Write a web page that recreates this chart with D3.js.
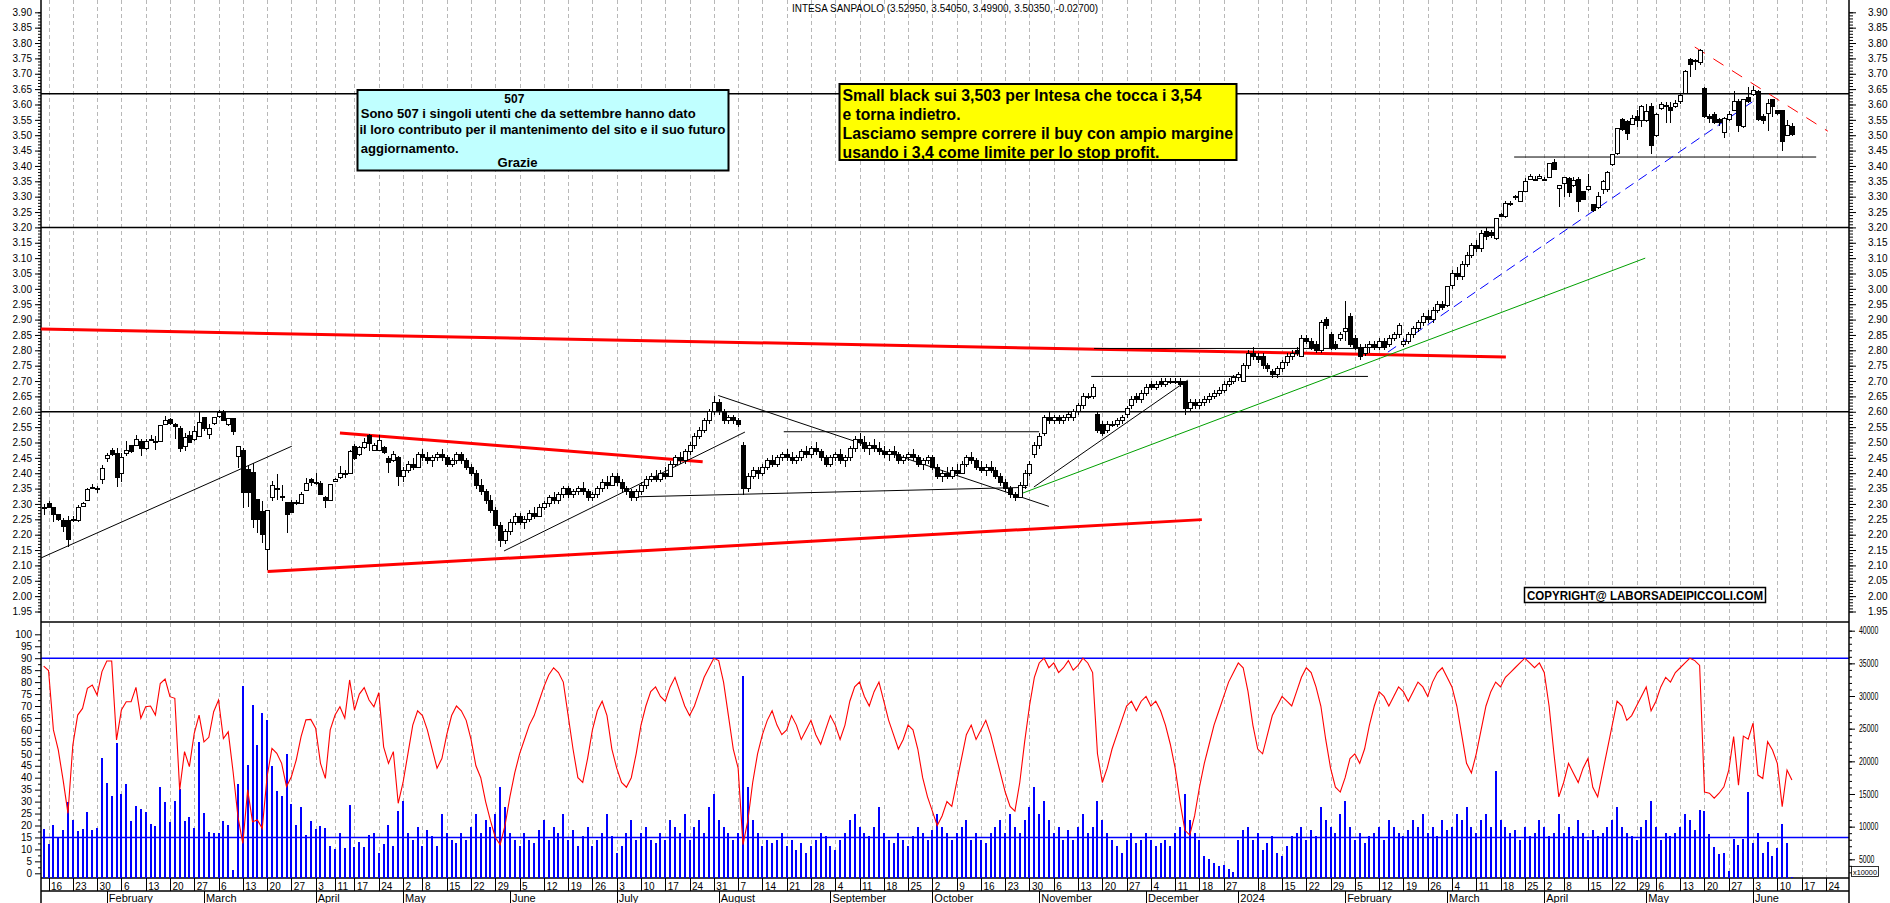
<!DOCTYPE html>
<html><head><meta charset="utf-8">
<script src="https://cdn.jsdelivr.net/npm/d3@7"></script>
<style>body{margin:0;background:#fff}svg{display:block}text{font-family:"Liberation Sans",Arial,sans-serif}</style>
</head><body>
<svg id="chart" width="1890" height="903"></svg>
<script>
// ---------------- DATA ----------------
const titleText = "INTESA SANPAOLO (3.52950, 3.54050, 3.49900, 3.50350, -0.02700)";
const firstTradingDay = "2023-01-13";
const marketHolidays = ["2023-04-07","2023-04-10","2023-05-01","2023-12-25","2023-12-26","2024-01-01","2024-03-29","2024-04-01","2024-05-01"];
const monthNames = ["January","February","March","April","May","June","July","August","September","October","November","December"];

// daily candles [open, high, low, close]
const ohlc = [
[2.29,2.30,2.265,2.285],[2.30,2.31,2.29,2.29],[2.29,2.29,2.24,2.265],[2.265,2.265,2.245,2.25],[2.245,2.255,2.21,2.228],
[2.245,2.26,2.16,2.185],[2.245,2.26,2.24,2.248],[2.247,2.298,2.24,2.287],[2.292,2.305,2.29,2.30],[2.31,2.352,2.308,2.347],
[2.35,2.366,2.348,2.352],[2.35,2.357,2.335,2.35],[2.38,2.428,2.365,2.414],[2.447,2.466,2.436,2.458],[2.475,2.483,2.455,2.46],
[2.464,2.483,2.354,2.387],[2.398,2.466,2.37,2.45],[2.463,2.504,2.455,2.474],[2.49,2.493,2.466,2.472],[2.491,2.526,2.488,2.51],
[2.504,2.51,2.457,2.482],[2.482,2.51,2.475,2.504],[2.508,2.526,2.504,2.51],[2.50,2.52,2.477,2.503],[2.504,2.556,2.503,2.555],
[2.56,2.585,2.558,2.57],[2.575,2.58,2.558,2.562],[2.559,2.564,2.51,2.551],[2.545,2.553,2.468,2.482],[2.486,2.531,2.472,2.515],
[2.523,2.537,2.497,2.499],[2.51,2.553,2.504,2.537],[2.521,2.602,2.518,2.566],[2.58,2.584,2.537,2.545],[2.526,2.559,2.51,2.545],
[2.562,2.581,2.558,2.58],[2.584,2.607,2.58,2.597],[2.599,2.607,2.57,2.57],[2.558,2.58,2.555,2.577],[2.577,2.577,2.526,2.537],
[2.455,2.486,2.417,2.486],[2.474,2.483,2.287,2.336],[2.412,2.426,2.29,2.336],[2.403,2.432,2.222,2.249],[2.314,2.314,2.205,2.249],
[2.276,2.309,2.173,2.20],[2.153,2.28,2.084,2.279],[2.32,2.374,2.309,2.36],[2.35,2.396,2.314,2.35],[2.323,2.363,2.309,2.323],
[2.305,2.305,2.205,2.265],[2.305,2.314,2.27,2.273],[2.303,2.314,2.298,2.305],[2.303,2.338,2.301,2.33],[2.344,2.385,2.341,2.368],
[2.379,2.385,2.357,2.37],[2.37,2.40,2.363,2.371],[2.368,2.374,2.33,2.33],[2.32,2.327,2.287,2.312],[2.312,2.364,2.31,2.363],
[2.374,2.385,2.373,2.379],[2.385,2.423,2.38,2.40],[2.398,2.41,2.385,2.40],[2.40,2.477,2.40,2.472],[2.488,2.494,2.442,2.447],
[2.461,2.488,2.455,2.483],[2.483,2.515,2.478,2.501],[2.523,2.528,2.472,2.497],[2.475,2.499,2.472,2.49],[2.475,2.523,2.472,2.508],
[2.483,2.488,2.461,2.466],[2.447,2.455,2.40,2.436],[2.44,2.472,2.436,2.461],[2.45,2.456,2.357,2.39],
[2.39,2.42,2.37,2.41],[2.41,2.44,2.40,2.43],[2.43,2.45,2.41,2.42],[2.42,2.47,2.42,2.46],[2.46,2.48,2.44,2.45],
[2.45,2.47,2.43,2.44],[2.44,2.46,2.42,2.45],[2.45,2.47,2.44,2.46],[2.46,2.48,2.44,2.45],[2.45,2.46,2.42,2.43],
[2.43,2.45,2.42,2.44],[2.44,2.47,2.43,2.46],[2.46,2.47,2.43,2.44],[2.44,2.45,2.41,2.42],[2.42,2.43,2.39,2.40],
[2.40,2.41,2.35,2.36],[2.36,2.38,2.33,2.34],[2.34,2.35,2.30,2.31],[2.31,2.33,2.27,2.28],[2.28,2.29,2.22,2.23],
[2.23,2.24,2.16,2.18],[2.18,2.22,2.17,2.21],[2.21,2.25,2.20,2.24],[2.24,2.27,2.23,2.26],[2.26,2.27,2.23,2.24],
[2.24,2.26,2.22,2.25],[2.25,2.28,2.24,2.27],[2.27,2.29,2.25,2.26],[2.26,2.30,2.26,2.29],[2.29,2.31,2.28,2.30],
[2.30,2.33,2.29,2.32],[2.32,2.34,2.30,2.31],[2.31,2.34,2.30,2.33],[2.33,2.36,2.32,2.35],[2.35,2.36,2.32,2.33],
[2.33,2.35,2.32,2.34],[2.34,2.36,2.33,2.35],[2.35,2.37,2.33,2.34],[2.34,2.35,2.31,2.32],[2.32,2.34,2.31,2.33],
[2.33,2.36,2.32,2.35],[2.35,2.38,2.34,2.37],[2.37,2.39,2.35,2.36],[2.36,2.40,2.36,2.39],[2.39,2.40,2.36,2.37],
[2.37,2.38,2.34,2.35],[2.35,2.36,2.33,2.34],[2.34,2.35,2.31,2.32],[2.32,2.35,2.31,2.34],[2.34,2.37,2.33,2.36],
[2.36,2.39,2.35,2.38],[2.38,2.40,2.37,2.39],[2.39,2.41,2.37,2.38],[2.38,2.41,2.37,2.40],[2.40,2.42,2.38,2.39],
[2.39,2.44,2.39,2.43],[2.43,2.46,2.42,2.45],[2.45,2.47,2.43,2.44],[2.44,2.48,2.43,2.47],[2.47,2.50,2.46,2.49],
[2.49,2.53,2.48,2.52],[2.52,2.55,2.51,2.54],[2.54,2.58,2.53,2.57],[2.57,2.61,2.56,2.60],[2.60,2.65,2.59,2.63],
[2.63,2.64,2.59,2.60],[2.60,2.61,2.56,2.57],[2.57,2.59,2.56,2.58],[2.58,2.59,2.56,2.57],[2.57,2.58,2.55,2.56],
[2.49,2.50,2.33,2.35],[2.35,2.40,2.34,2.39],[2.39,2.42,2.38,2.41],[2.41,2.42,2.38,2.40],[2.40,2.43,2.39,2.42],
[2.42,2.45,2.41,2.44],[2.44,2.46,2.42,2.43],[2.43,2.46,2.42,2.45],[2.45,2.47,2.44,2.46],[2.46,2.48,2.44,2.45],
[2.45,2.47,2.43,2.44],[2.44,2.46,2.43,2.45],[2.45,2.48,2.44,2.47],[2.47,2.49,2.45,2.46],[2.46,2.49,2.45,2.48],
[2.48,2.50,2.46,2.47],[2.47,2.48,2.44,2.45],[2.45,2.46,2.42,2.43],[2.43,2.46,2.42,2.45],[2.45,2.47,2.44,2.46],
[2.46,2.48,2.43,2.44],[2.44,2.46,2.42,2.45],[2.45,2.49,2.44,2.48],[2.48,2.52,2.47,2.51],[2.51,2.53,2.49,2.50],
[2.50,2.52,2.47,2.48],[2.48,2.50,2.46,2.49],[2.49,2.51,2.47,2.48],[2.48,2.50,2.46,2.47],[2.47,2.49,2.45,2.46],
[2.46,2.48,2.44,2.47],[2.47,2.49,2.45,2.46],[2.46,2.47,2.43,2.44],[2.44,2.46,2.43,2.45],[2.45,2.47,2.44,2.46],
[2.46,2.48,2.44,2.45],[2.45,2.46,2.42,2.43],[2.43,2.45,2.41,2.44],[2.44,2.46,2.43,2.45],[2.45,2.46,2.41,2.42],
[2.42,2.43,2.38,2.39],[2.39,2.41,2.37,2.40],[2.40,2.42,2.38,2.39],[2.39,2.42,2.38,2.41],[2.41,2.43,2.39,2.40],
[2.40,2.44,2.40,2.43],[2.43,2.46,2.42,2.45],[2.45,2.47,2.43,2.44],[2.44,2.45,2.41,2.42],[2.42,2.44,2.40,2.41],
[2.41,2.43,2.39,2.42],[2.42,2.44,2.40,2.41],[2.41,2.42,2.38,2.39],[2.39,2.40,2.36,2.37],
[2.37,2.38,2.34,2.35],[2.35,2.36,2.32,2.33],[2.33,2.34,2.31,2.32],[2.32,2.37,2.32,2.36],[2.36,2.41,2.35,2.40],
[2.40,2.44,2.39,2.43],[2.46,2.50,2.45,2.49],[2.49,2.53,2.48,2.52],[2.53,2.59,2.52,2.58],[2.58,2.60,2.56,2.57],
[2.57,2.59,2.56,2.58],[2.58,2.59,2.56,2.57],[2.57,2.59,2.56,2.58],[2.58,2.60,2.57,2.59],[2.58,2.61,2.57,2.60],
[2.60,2.63,2.59,2.62],[2.62,2.66,2.61,2.65],[2.65,2.66,2.64,2.65],[2.65,2.69,2.64,2.68],[2.59,2.60,2.53,2.54],
[2.56,2.57,2.52,2.53],[2.54,2.57,2.53,2.56],[2.56,2.57,2.55,2.56],[2.56,2.58,2.55,2.57],[2.57,2.59,2.56,2.58],
[2.59,2.62,2.58,2.61],[2.62,2.65,2.61,2.64],[2.65,2.66,2.63,2.64],[2.64,2.67,2.63,2.66],[2.66,2.69,2.65,2.68],
[2.69,2.70,2.67,2.68],[2.68,2.70,2.67,2.69],[2.70,2.71,2.68,2.69],[2.69,2.71,2.68,2.70],[2.70,2.71,2.69,2.70],
[2.70,2.71,2.69,2.70],[2.70,2.71,2.68,2.69],[2.70,2.70,2.59,2.61],[2.61,2.64,2.60,2.63],[2.63,2.64,2.61,2.62],
[2.62,2.64,2.61,2.63],[2.63,2.65,2.62,2.64],[2.64,2.66,2.63,2.65],[2.65,2.67,2.64,2.66],[2.66,2.68,2.65,2.67],
[2.67,2.70,2.66,2.69],[2.69,2.71,2.68,2.70],[2.70,2.72,2.69,2.71],[2.71,2.73,2.70,2.72],[2.70,2.76,2.70,2.75],
[2.75,2.80,2.74,2.79],[2.79,2.81,2.77,2.78],[2.78,2.79,2.76,2.77],[2.78,2.79,2.74,2.75],[2.75,2.76,2.73,2.74],
[2.73,2.74,2.71,2.72],[2.72,2.75,2.71,2.74],[2.74,2.77,2.73,2.76],[2.76,2.79,2.75,2.78],[2.78,2.80,2.77,2.79],
[2.80,2.81,2.78,2.79],[2.78,2.85,2.78,2.84],[2.84,2.85,2.82,2.83],[2.83,2.84,2.80,2.81],[2.82,2.83,2.79,2.80],
[2.80,2.90,2.79,2.89],[2.90,2.91,2.87,2.88],[2.85,2.86,2.80,2.81],[2.82,2.83,2.80,2.81],[2.84,2.86,2.83,2.85],
[2.86,2.96,2.83,2.87],[2.91,2.92,2.81,2.82],[2.84,2.85,2.80,2.81],[2.81,2.82,2.77,2.78],[2.79,2.82,2.78,2.81],
[2.81,2.83,2.79,2.82],[2.82,2.83,2.80,2.81],[2.81,2.84,2.80,2.83],[2.83,2.84,2.80,2.81],[2.82,2.85,2.81,2.84],
[2.84,2.86,2.83,2.85],[2.85,2.89,2.84,2.88],[2.82,2.84,2.81,2.83],[2.83,2.86,2.82,2.85],[2.85,2.88,2.84,2.87],
[2.87,2.90,2.86,2.89],[2.89,2.92,2.88,2.91],[2.91,2.93,2.89,2.90],[2.90,2.94,2.89,2.93],[2.93,2.96,2.92,2.95],
[2.95,2.96,2.93,2.94],[2.947,3.01,2.94,3.009],[3.01,3.06,3.00,3.05],[3.05,3.07,3.03,3.04],[3.04,3.09,3.03,3.08],
[3.08,3.12,3.07,3.11],[3.11,3.15,3.10,3.14],[3.14,3.16,3.12,3.13],[3.13,3.19,3.12,3.18],
[3.186,3.20,3.159,3.17],[3.183,3.19,3.165,3.175],[3.164,3.23,3.16,3.229],[3.242,3.248,3.235,3.235],[3.235,3.285,3.23,3.278],
[3.278,3.285,3.27,3.279],[3.302,3.305,3.29,3.298],[3.283,3.316,3.283,3.316],[3.316,3.36,3.316,3.349],[3.355,3.374,3.353,3.365],
[3.354,3.366,3.35,3.355],[3.359,3.375,3.356,3.367],[3.354,3.364,3.353,3.355],[3.363,3.41,3.363,3.408],[3.411,3.422,3.387,3.387],
[3.328,3.335,3.267,3.335],[3.343,3.365,3.30,3.363],[3.359,3.365,3.30,3.313],[3.337,3.365,3.33,3.354],[3.356,3.365,3.25,3.283],
[3.316,3.32,3.29,3.291],[3.324,3.375,3.32,3.332],[3.273,3.273,3.25,3.256],[3.264,3.316,3.26,3.30],[3.322,3.355,3.31,3.349],
[3.322,3.382,3.316,3.378],[3.406,3.44,3.40,3.436],[3.441,3.525,3.436,3.522],[3.551,3.555,3.515,3.519],[3.544,3.55,3.483,3.506],
[3.536,3.566,3.533,3.555],[3.56,3.582,3.528,3.549],[3.549,3.598,3.528,3.593],[3.549,3.60,3.543,3.576],[3.593,3.604,3.44,3.468],
[3.50,3.572,3.495,3.569],[3.587,3.609,3.582,3.601],[3.598,3.609,3.54,3.598],[3.59,3.609,3.541,3.582],[3.593,3.613,3.587,3.604],
[3.609,3.638,3.603,3.63],[3.636,3.712,3.636,3.707],[3.747,3.75,3.69,3.731],[3.742,3.747,3.712,3.742],[3.736,3.78,3.73,3.777],
[3.653,3.656,3.555,3.56],[3.56,3.57,3.54,3.555],[3.566,3.575,3.535,3.54],[3.55,3.555,3.53,3.54],[3.51,3.56,3.49,3.555],
[3.55,3.58,3.545,3.568],[3.58,3.645,3.578,3.61],[3.61,3.618,3.51,3.533],[3.527,3.619,3.525,3.617],[3.624,3.657,3.605,3.61],
[3.634,3.66,3.627,3.646],[3.642,3.648,3.545,3.55],[3.562,3.57,3.536,3.547],[3.571,3.617,3.514,3.602],[3.617,3.617,3.56,3.593],
[3.579,3.58,3.565,3.571],[3.579,3.58,3.45,3.478],[3.50,3.55,3.498,3.53],[3.5295,3.5405,3.499,3.5035]
];

// volume (right axis units)
const volume = [
9593,7342,10251,8460,9486,13722,11017,9333,9640,12196,9486,9792,20555,16728,14691,22852,14998,16575,10910,13160,
12746,12242,10404,10052,16069,13727,10711,13880,15809,10910,11476,9838,23005,12134,9180,9026,9026,10864,10205,3362,
16529,31532,19437,28623,22500,27398,26327,19238,15502,14737,21121,13512,10205,12961,8720,10864,9685,10144,9746,6990,
6577,8980,6776,13267,6929,7649,6929,8766,8980,5918,7297,10297,6990,12348,
14000,9000,8000,10000,7000,9500,8500,7000,12000,9000,8000,7500,9000,8000,10000,12000,9000,11000,10000,12000,
16000,13000,9000,8000,7000,9000,8000,7500,9500,11000,8000,10000,9000,12000,8000,9500,7000,8500,10000,7000,
8000,9000,12000,8500,6000,7000,9000,11000,8000,9000,10000,8000,7500,9000,8000,11000,10000,9000,12000,8000,
10000,11000,9000,13000,15000,11000,10000,9000,8000,9000,33000,16000,11000,9000,7000,8000,7500,8000,9000,7000,
8000,6500,7500,6000,7000,8000,9000,8500,7000,6500,8000,9000,11000,12000,10000,9000,8500,10000,13000,9000,
8000,7500,9000,8000,7000,8500,10000,9000,8000,9500,12000,10000,9000,8000,9000,10000,11000,8000,9000,8000,
7500,9000,10000,11000,9000,12000,10000,9000,11000,13000,16000,12000,14000,11000,9000,10000,8000,9500,8000,10000,
12000,9000,10000,14000,11000,9000,8000,7000,6000,8000,9000,7500,8000,9000,8000,7000,7500,8000,7000,9000,
10000,15000,11000,9000,8000,5500,5000,4500,4000,4200,3500,3000,8000,9500,10000,8000,9000,6500,7500,8500,
6000,5500,7000,8500,9000,10000,8000,9500,8500,13000,11000,10000,9000,12000,14000,10000,8000,9000,7500,8500,
9000,10000,8000,11000,10000,9000,8500,9500,11000,10000,12000,9000,10000,8500,11000,9500,10000,12000,11000,13000,
10000,9000,11000,12000,10000,18500,11000,10000,9000,9500,8000,10000,8500,9000,11000,10000,8500,9000,12000,9000,
10000,8500,11000,9000,8000,9500,8500,9000,10000,11000,13000,10000,9000,8500,8000,10000,11000,14000,10000,8000,
9000,8500,9000,10000,12000,11000,9500,12548,12441,8827,6837,5811,5919,3255,8062,7143,8062,15304,7450,8981,
6010,7649,5505,6730,10404,7450,2336
];

// oscillator (left axis 0-100)
const oscillator = [
86.7,84.8,60,51.6,39,25.1,53.7,66.2,69,77.4,78.8,74.6,84.4,88.8,88.8,55.8,68.3,71.8,71.8,77.8,
64.9,69.7,70,66.2,79.4,81.3,73.9,73.2,34.9,50.9,44.6,58.6,66.2,55,56.9,67.6,72.5,56.4,59.2,42.5,
23.7,12.5,34.9,21.6,22.3,18.8,40.4,52.3,50.2,46,36.3,40.4,47.4,57.2,64.2,64.4,60.7,46,39.7,60,
66.2,69.7,64.9,80.9,68.3,75,77.7,72.5,69.7,75.6,52.9,46,50.9,29.3,
38,50,62,68,66,60,52,44,48,58,66,70,68,64,56,45,40,30,22,15,
12,20,32,42,50,56,62,66,72,78,83,86,84,80,66,52,40,38,48,60,
68,72,66,52,44,38,36,40,50,62,70,76,78,74,72,78,82,76,70,66,
70,76,82,86,90,89,80,66,52,44,12,22,38,50,58,64,68,62,58,60,
66,62,56,60,64,58,54,60,66,62,56,62,72,78,80,74,70,76,80,72,
64,58,52,56,62,60,52,40,32,26,20,24,30,28,38,48,58,62,56,60,
64,58,50,42,34,28,26,38,55,70,82,88,90,86,88,84,86,89,85,87,
90,88,84,50,38,44,52,58,64,70,72,68,72,74,70,72,68,62,54,44,
30,18,16,24,36,46,54,62,68,74,80,84,88,86,76,62,52,50,58,66,
70,74,72,70,76,82,86,84,78,70,56,44,36,34,40,48,50,46,52,62,
70,76,74,70,74,78,76,72,76,80,78,74,80,84,86,82,78,70,58,46,
42,50,60,70,76,80,78,82,84,86,88,90,88,86,88,84,70,50,32,38,
46,42,38,44,48,36,32,42,52,62,72,70,64,66,70,74,78,68,72,78,
82,80,84,86,88,90,89,87,34,33.5,31.4,33.5,36.2,43.2,57.2,36.9,57.4,56.1,
62.8,41.1,39.7,55.1,51.6,46,27.9,43.2,39
];

const priceLevels = [3.635, 3.20, 2.60];
const oscLevels = [90, 15];
// drawn trendlines: [index1, price1, index2, price2]
const blackTrends = [[-0.6,2.124,51.1,2.488],[94.8,2.147,144.4,2.534],[138.9,2.653,207,2.292],[121.4,2.323,202.5,2.354],
  [203.9,2.355,235.6,2.703],[152.4,2.535,205,2.535],[215.7,2.715,272.7,2.715],[216.3,2.806,272.5,2.806],[302.8,3.429,365,3.429]];
const redTrends = [[-0.6,2.869,301.1,2.778],[61,2.531,135.7,2.437],[46.1,2.080,238.5,2.249]];
const greenTrend = [200.2,2.327,329.8,3.100];
const blueDashTrend = [276.8,2.794,353,3.621];
const redDashTrend = [340,3.787,367.4,3.513];

const noteCyan = ["507","Sono 507 i singoli utenti che da settembre hanno dato","il loro contributo per il mantenimento del sito e il suo futuro","aggiornamento.","Grazie"];
const noteYellow = ["Small black sui 3,503 per Intesa che tocca i 3,54","e torna indietro.","Lasciamo sempre correre il buy con ampio margine","usando i 3,4 come limite per lo stop profit."];
const copyrightText = "COPYRIGHT@ LABORSADEIPICCOLI.COM";

// ---------------- LAYOUT ----------------
const svg = d3.select("#chart");
const L = 41, R = 1849;
const priceBottom = 622, volBottom = 878, dayRowBottom = 891, H = 903;

// trading days (calendar)
const hol = new Set(marketHolidays);
const days = [];
{
  const d = new Date(firstTradingDay + "T00:00:00Z");
  while (days.length < 375) {
    const wd = d.getUTCDay(), key = d.toISOString().slice(0,10);
    if (wd !== 0 && wd !== 6 && !hol.has(key)) days.push(new Date(d));
    d.setUTCDate(d.getUTCDate() + 1);
  }
}
const x = d3.scaleLinear().domain([0, 360]).range([43.7, 1791.9]);
const yP = d3.scaleLinear().domain([1.95, 3.90]).range([611.5, 12.3]);
const yO = d3.scaleLinear().domain([0, 100]).range([873.3, 634.3]);
const yV = d3.scaleLinear().domain([5000, 40000]).range([859.3, 630.7]);

// week starts & month starts
const weekStarts = [], monthStarts = [];
days.forEach((d, i) => {
  if (i === 0) return;
  const p = days[i-1];
  if (x(i) > R - 2) return;
  const newYear = d.getUTCFullYear() !== p.getUTCFullYear();
  if (d.getUTCDay() < p.getUTCDay() || (d - p) > 3*86400000) { if (!newYear) weekStarts.push(i); }
  if (d.getUTCMonth() !== p.getUTCMonth()) monthStarts.push(i);
});

// grid (dashed verticals)
svg.append("g").selectAll("line").data(weekStarts).join("line")
  .attr("x1", i => Math.round(x(i)) + 0.5).attr("x2", i => Math.round(x(i)) + 0.5)
  .attr("y1", 0).attr("y2", volBottom)
  .attr("stroke", "#b8b8b8").attr("stroke-dasharray", "4,3");

// level lines
svg.append("g").selectAll("line").data(priceLevels).join("line")
  .attr("x1", L).attr("x2", R).attr("y1", d => yP(d)).attr("y2", d => yP(d))
  .attr("stroke", "#000").attr("stroke-width", 1.5);
svg.append("g").selectAll("line").data(oscLevels).join("line")
  .attr("x1", L).attr("x2", R).attr("y1", d => yO(d)).attr("y2", d => yO(d))
  .attr("stroke", "#0000ff").attr("stroke-width", 1.5);

// panel frame lines
const frame = svg.append("g").attr("stroke", "#000").attr("stroke-width", 1.5);
frame.append("line").attr("x1", L).attr("x2", R).attr("y1", priceBottom).attr("y2", priceBottom);
frame.append("line").attr("x1", L).attr("x2", R).attr("y1", volBottom).attr("y2", volBottom);
frame.append("line").attr("x1", L).attr("x2", R).attr("y1", dayRowBottom).attr("y2", dayRowBottom);
frame.append("line").attr("x1", L).attr("x2", L).attr("y1", 0).attr("y2", H);
frame.append("line").attr("x1", R).attr("x2", R).attr("y1", 0).attr("y2", H);

// volume bars
svg.append("g").selectAll("rect").data(volume).join("rect")
  .attr("x", (v, i) => x(i) - 1).attr("width", 2)
  .attr("y", v => Math.min(yV(v), volBottom - 1)).attr("height", v => Math.max(1, volBottom - yV(v)))
  .attr("fill", "#0000ff").attr("shape-rendering", "crispEdges");

// oscillator line
svg.append("path").datum(oscillator)
  .attr("d", d3.line().x((v, i) => x(i)).y(v => yO(v)))
  .attr("fill", "none").attr("stroke", "#ff0000").attr("stroke-width", 1.1);

// trendlines
const tl = (arr, color, w, dash) => svg.append("g").selectAll("line").data(arr).join("line")
  .attr("x1", d => x(d[0])).attr("y1", d => yP(d[1])).attr("x2", d => x(d[2])).attr("y2", d => yP(d[3]))
  .attr("stroke", color).attr("stroke-width", w).attr("stroke-dasharray", dash || null);
tl(redTrends, "#ff0000", 3);
tl(blackTrends, "#000", 1);
tl([greenTrend], "#00a000", 1);
tl([blueDashTrend], "#0000ff", 1, "10,6");
tl([redDashTrend], "#ff0000", 1, "12,10");

// candles
const candles = ohlc.map((r, i) => ({i, o: r[0], h: r[1], l: r[2], c: r[3]}));
const cg = svg.append("g").attr("shape-rendering", "crispEdges");
cg.selectAll("line").data(candles).join("line")
  .attr("x1", d => Math.round(x(d.i)) + 0.5).attr("x2", d => Math.round(x(d.i)) + 0.5)
  .attr("y1", d => yP(d.h)).attr("y2", d => yP(d.l)).attr("stroke", "#000");
cg.selectAll("rect").data(candles).join("rect")
  .attr("x", d => Math.round(x(d.i)) - 1.5).attr("width", 4)
  .attr("y", d => yP(Math.max(d.o, d.c))).attr("height", d => Math.max(1, Math.abs(yP(d.o) - yP(d.c))))
  .attr("fill", d => d.c >= d.o ? "#fff" : "#000").attr("stroke", "#000");

// ---------------- AXES ----------------
const fmt2 = d3.format(".2f");
const priceTicks = d3.range(195, 391, 5).map(v => v / 100);
const priceMinor = d3.range(195, 391, 1).map(v => v / 100);
function styleAxis(g){ g.select(".domain").remove(); g.selectAll("line").attr("stroke","#000"); g.selectAll("text").attr("fill","#000").attr("font-size","10px"); }

svg.append("g").attr("transform", `translate(${L},0)`)
  .call(d3.axisLeft(yP).tickValues(priceMinor).tickSize(3).tickFormat("")).call(styleAxis);
svg.append("g").attr("transform", `translate(${L},0)`)
  .call(d3.axisLeft(yP).tickValues(priceTicks).tickSize(6).tickPadding(3).tickFormat(fmt2)).call(styleAxis);
svg.append("g").attr("transform", `translate(${R},0)`)
  .call(d3.axisRight(yP).tickValues(priceMinor).tickSize(4).tickFormat("")).call(styleAxis);
svg.append("g").attr("transform", `translate(${R},0)`)
  .call(d3.axisRight(yP).tickValues(priceTicks).tickSize(7).tickPadding(12).tickFormat(fmt2)).call(styleAxis);

svg.append("g").attr("transform", `translate(${L},0)`)
  .call(d3.axisLeft(yO).tickValues(d3.range(0, 101, 5)).tickSize(6).tickPadding(3).tickFormat(d3.format("d"))).call(styleAxis);
svg.append("g").attr("transform", `translate(${L},0)`)
  .call(d3.axisLeft(yO).tickValues(d3.range(2.5, 101, 5)).tickSize(3).tickFormat("")).call(styleAxis);

const volAxis = svg.append("g").attr("transform", `translate(${R},0)`)
  .call(d3.axisRight(yV).tickValues(d3.range(5000, 40001, 5000)).tickSize(6).tickPadding(4).tickFormat(d3.format("d"))).call(styleAxis);
volAxis.selectAll("text").attr("textLength", function(){ return this.textContent.length * 3.85; }).attr("lengthAdjust", "spacingAndGlyphs");
svg.append("g").attr("transform", `translate(${R},0)`)
  .call(d3.axisRight(yV).tickValues(d3.range(3000, 40001, 1000)).tickSize(3).tickFormat("")).call(styleAxis);

svg.append("rect").attr("x", 1851.5).attr("y", 866.5).attr("width", 27).attr("height", 10).attr("fill", "#fff").attr("stroke", "#000").attr("stroke-width", 0.8);
svg.append("text").attr("x", 1853).attr("y", 874.5).attr("font-size", "7px").attr("textLength", 24).attr("lengthAdjust", "spacingAndGlyphs").text("x10000");

// date axis
const xa = svg.append("g");
xa.selectAll("line.wk").data(weekStarts).join("line").attr("class", "wk")
  .attr("x1", i => Math.round(x(i)) + 0.5).attr("x2", i => Math.round(x(i)) + 0.5)
  .attr("y1", volBottom).attr("y2", dayRowBottom).attr("stroke", "#000");
xa.selectAll("text.wk").data(weekStarts).join("text").attr("class", "wk")
  .attr("x", i => x(i) + 2.5).attr("y", 889.5).attr("font-size", "10px").attr("fill", "#000")
  .text(i => days[i].getUTCDate());
xa.selectAll("line.mo").data(monthStarts).join("line").attr("class", "mo")
  .attr("x1", i => Math.round(x(i)) + 0.5).attr("x2", i => Math.round(x(i)) + 0.5)
  .attr("y1", dayRowBottom).attr("y2", H).attr("stroke", "#000");
xa.selectAll("text.mo").data(monthStarts).join("text").attr("class", "mo")
  .attr("x", i => x(i) + 2).attr("y", 902).attr("font-size", "11px").attr("fill", "#000")
  .text(i => days[i].getUTCMonth() === 0 ? String(days[i].getUTCFullYear()) : monthNames[days[i].getUTCMonth()]);

// ---------------- ANNOTATIONS ----------------
svg.append("text").attr("x", 792).attr("y", 12).attr("font-size", "10px").attr("fill", "#000")
  .attr("textLength", 306).attr("lengthAdjust", "spacingAndGlyphs").text(titleText);

// cyan box
svg.append("rect").attr("x", 357.5).attr("y", 90).attr("width", 371).attr("height", 80.5)
  .attr("fill", "#c0ffff").attr("stroke", "#000").attr("stroke-width", 2);
const cyanSpecs = [[514.3,102.5,20,"middle"],[360.7,117.5,335,"start"],[359.5,133.5,366,"start"],[360.7,152.5,98,"start"],[517.5,167,40,"middle"]];
noteCyan.forEach((t, k) => {
  const s = cyanSpecs[k];
  svg.append("text").attr("x", s[0]).attr("y", s[1]).attr("text-anchor", s[3]).attr("font-size", "12.5px").attr("font-weight", "bold")
    .attr("textLength", s[2]).attr("lengthAdjust", "spacingAndGlyphs").text(t);
});

// yellow box
svg.append("rect").attr("x", 839.5).attr("y", 84).attr("width", 397).attr("height", 76)
  .attr("fill", "#ffff00").attr("stroke", "#000").attr("stroke-width", 2);
const yellowSpecs = [[842.5,100.8,359],[842.5,120,118],[842.5,138.5,390.5],[842.5,157.5,317]];
noteYellow.forEach((t, k) => {
  const s = yellowSpecs[k];
  svg.append("text").attr("x", s[0]).attr("y", s[1]).attr("font-size", "16px").attr("font-weight", "bold")
    .attr("textLength", s[2]).attr("lengthAdjust", "spacingAndGlyphs").text(t);
});

// copyright
svg.append("rect").attr("x", 1524.5).attr("y", 587.5).attr("width", 241).attr("height", 15)
  .attr("fill", "#fff").attr("stroke", "#000").attr("stroke-width", 1.5);
svg.append("text").attr("x", 1527).attr("y", 599.5).attr("font-size", "12px").attr("font-weight", "bold")
  .attr("textLength", 236).attr("lengthAdjust", "spacingAndGlyphs").text(copyrightText);
</script>
</body></html>
